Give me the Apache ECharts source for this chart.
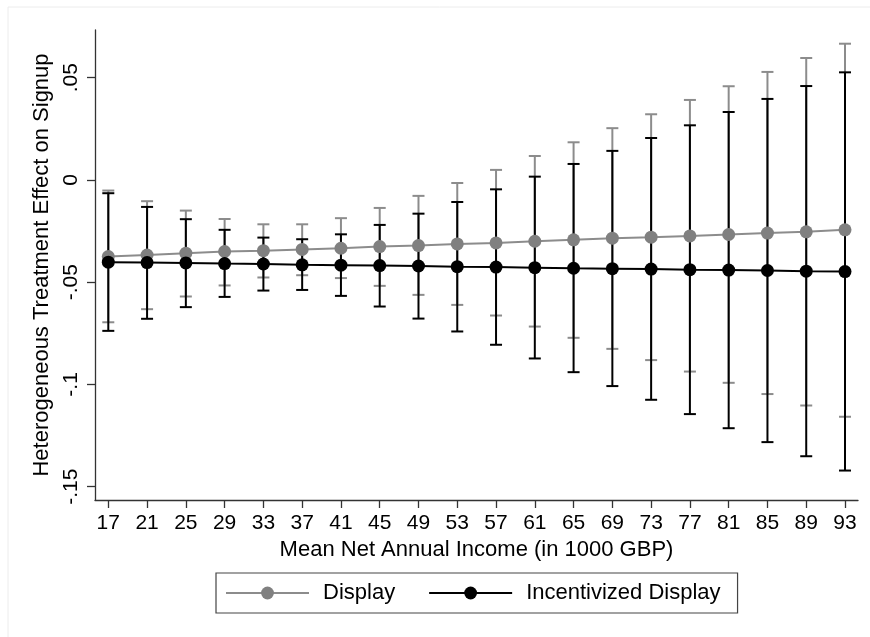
<!DOCTYPE html>
<html>
<head>
<meta charset="utf-8">
<script src="https://cdn.jsdelivr.net/npm/echarts@6/dist/echarts.min.js"></script>
<style>
html,body{margin:0;padding:0;background:#fff;}
#chart{width:870px;height:637px;}
</style>
</head>
<body>
<div id="chart"></div>
<script>
// ---- data ----
const income = [17, 21, 25, 29, 33, 37, 41, 45, 49, 53, 57, 61, 65, 69, 73, 77, 81, 85, 89, 93];

const displayMean = [-0.0375, -0.0367, -0.0358, -0.0350, -0.0346, -0.0340, -0.0334, -0.0326, -0.0321, -0.0313,
                     -0.0308, -0.0300, -0.0293, -0.0285, -0.0280, -0.0274, -0.0267, -0.0260, -0.0254, -0.0244];
const displayHigh = [-0.0052, -0.0104, -0.0150, -0.0191, -0.0217, -0.0217, -0.0187, -0.0137, -0.0078, -0.0015,
                     0.0049, 0.0117, 0.0184, 0.0253, 0.0321, 0.0391, 0.0458, 0.0528, 0.0596, 0.0666];
const displayLow = [-0.0696, -0.0632, -0.0570, -0.0516, -0.0477, -0.0466, -0.0480, -0.0518, -0.0562, -0.0611,
                    -0.0663, -0.0717, -0.0772, -0.0826, -0.0881, -0.0937, -0.0992, -0.1047, -0.1103, -0.1158];

const incentMean = [-0.0402, -0.0404, -0.0406, -0.0409, -0.0411, -0.0415, -0.0417, -0.0419, -0.0421, -0.0424,
                    -0.0426, -0.0429, -0.0432, -0.0434, -0.0436, -0.0439, -0.0441, -0.0443, -0.0446, -0.0448];
const incentHigh = [-0.0065, -0.0132, -0.0192, -0.0244, -0.0282, -0.0290, -0.0266, -0.0220, -0.0165, -0.0108,
                    -0.0046, 0.0016, 0.0078, 0.0142, 0.0205, 0.0267, 0.0332, 0.0396, 0.0459, 0.0526];
const incentLow = [-0.0738, -0.0679, -0.0622, -0.0572, -0.0541, -0.0538, -0.0567, -0.0619, -0.0678, -0.0741,
                   -0.0806, -0.0873, -0.0940, -0.1008, -0.1075, -0.1145, -0.1214, -0.1282, -0.1351, -0.1421];

const yTickValues = [-0.15, -0.1, -0.05, 0, 0.05];
const yTickLabels = ['-.15', '-.1', '-.05', '0', '.05'];
const seriesNames = ['Display', 'Incentivized Display'];
const xTitle = 'Mean Net Annual Income (in 1000 GBP)';
const yTitle = 'Heterogeneous Treatment Effect on Signup';

// ---- chart ----
const FONT = '"Liberation Sans", Arial, Helvetica, sans-serif';
const GRAY_LINE = '#8c8c8c';
const GRAY_DOT = '#808080';
const BLACK = '#000000';

function errRender(color) {
  return function (params, api) {
    const x = api.value(0), lo = api.value(1), hi = api.value(2);
    const pHi = api.coord([x, hi]);
    const pLo = api.coord([x, lo]);
    const hw = 6;
    const style = { stroke: color, lineWidth: 2, fill: null };
    return {
      type: 'group',
      children: [
        { type: 'line', shape: { x1: pHi[0], y1: pHi[1], x2: pLo[0], y2: pLo[1] }, style: style },
        { type: 'line', shape: { x1: pHi[0] - hw, y1: pHi[1], x2: pHi[0] + hw, y2: pHi[1] }, style: style },
        { type: 'line', shape: { x1: pLo[0] - hw, y1: pLo[1], x2: pLo[0] + hw, y2: pLo[1] }, style: style }
      ]
    };
  };
}

const chart = echarts.init(document.getElementById('chart'), null, { renderer: 'canvas' });

const option = {
  animation: false,
  backgroundColor: '#ffffff',
  textStyle: { fontFamily: FONT, color: '#000' },
  graphic: [
    { type: 'rect', shape: { x: 8, y: 7, width: 900, height: 700 }, style: { fill: null, stroke: '#ececec', lineWidth: 1 }, silent: true, z: -1 }
  ],
  grid: { left: 95, right: 12, top: 30, bottom: 137, containLabel: false },
  legend: {
    left: 216, top: 573,
    orient: 'horizontal',
    padding: [9, 17, 9, 9],
    itemGap: 33,
    itemWidth: 83,
    itemHeight: 16,
    borderColor: '#444',
    borderWidth: 1.2,
    borderRadius: 0,
    textStyle: { fontFamily: FONT, fontSize: 22, color: '#000', padding: [0, 0, 0, 9] },
    data: seriesNames
  },
  xAxis: {
    type: 'value',
    min: 15.628, max: 94.341,
    name: xTitle,
    nameLocation: 'middle',
    nameGap: 36,
    nameTextStyle: { fontFamily: FONT, fontSize: 22, color: '#000' },
    axisLine: { show: true, onZero: false, lineStyle: { color: '#333', width: 1.3 } },
    axisTick: { show: true, length: 8, lineStyle: { color: '#333', width: 1.3 }, customValues: income },
    axisLabel: { fontFamily: FONT, fontSize: 21, color: '#000', margin: 13, customValues: income },
    splitLine: { show: false }
  },
  yAxis: {
    type: 'value',
    min: -0.1565, max: 0.0733,
    name: yTitle,
    nameLocation: 'middle',
    nameRotate: 90,
    nameGap: 35,
    nameTextStyle: { fontFamily: FONT, fontSize: 22, color: '#000' },
    axisLine: { show: true, onZero: false, lineStyle: { color: '#333', width: 1.3 } },
    axisTick: { show: true, length: 8, lineStyle: { color: '#333', width: 1.3 }, customValues: yTickValues },
    axisLabel: {
      fontFamily: FONT, fontSize: 21, color: '#000', margin: 13, rotate: 90,
      customValues: yTickValues,
      formatter: function (v) {
        for (let i = 0; i < yTickValues.length; i++) {
          if (Math.abs(yTickValues[i] - v) < 1e-9) return yTickLabels[i];
        }
        return '';
      }
    },
    splitLine: { show: false }
  },
  series: [
    {
      type: 'custom',
      name: 'displayCI',
      renderItem: errRender(GRAY_LINE),
      encode: { x: 0, y: [1, 2] },
      data: income.map((x, i) => [x, displayLow[i], displayHigh[i]]),
      z: 2,
      clip: false,
      silent: true
    },
    {
      type: 'custom',
      name: 'incentCI',
      renderItem: errRender(BLACK),
      encode: { x: 0, y: [1, 2] },
      data: income.map((x, i) => [x, incentLow[i], incentHigh[i]]),
      z: 3,
      clip: false,
      silent: true
    },
    {
      type: 'line',
      name: seriesNames[0],
      data: income.map((x, i) => [x, displayMean[i]]),
      symbol: 'circle',
      symbolSize: 13,
      itemStyle: { color: GRAY_DOT },
      lineStyle: { color: GRAY_LINE, width: 2 },
      z: 4
    },
    {
      type: 'line',
      name: seriesNames[1],
      data: income.map((x, i) => [x, incentMean[i]]),
      symbol: 'circle',
      symbolSize: 13,
      itemStyle: { color: BLACK },
      lineStyle: { color: BLACK, width: 2 },
      z: 5
    }
  ]
};

chart.setOption(option);
</script>
</body>
</html>
